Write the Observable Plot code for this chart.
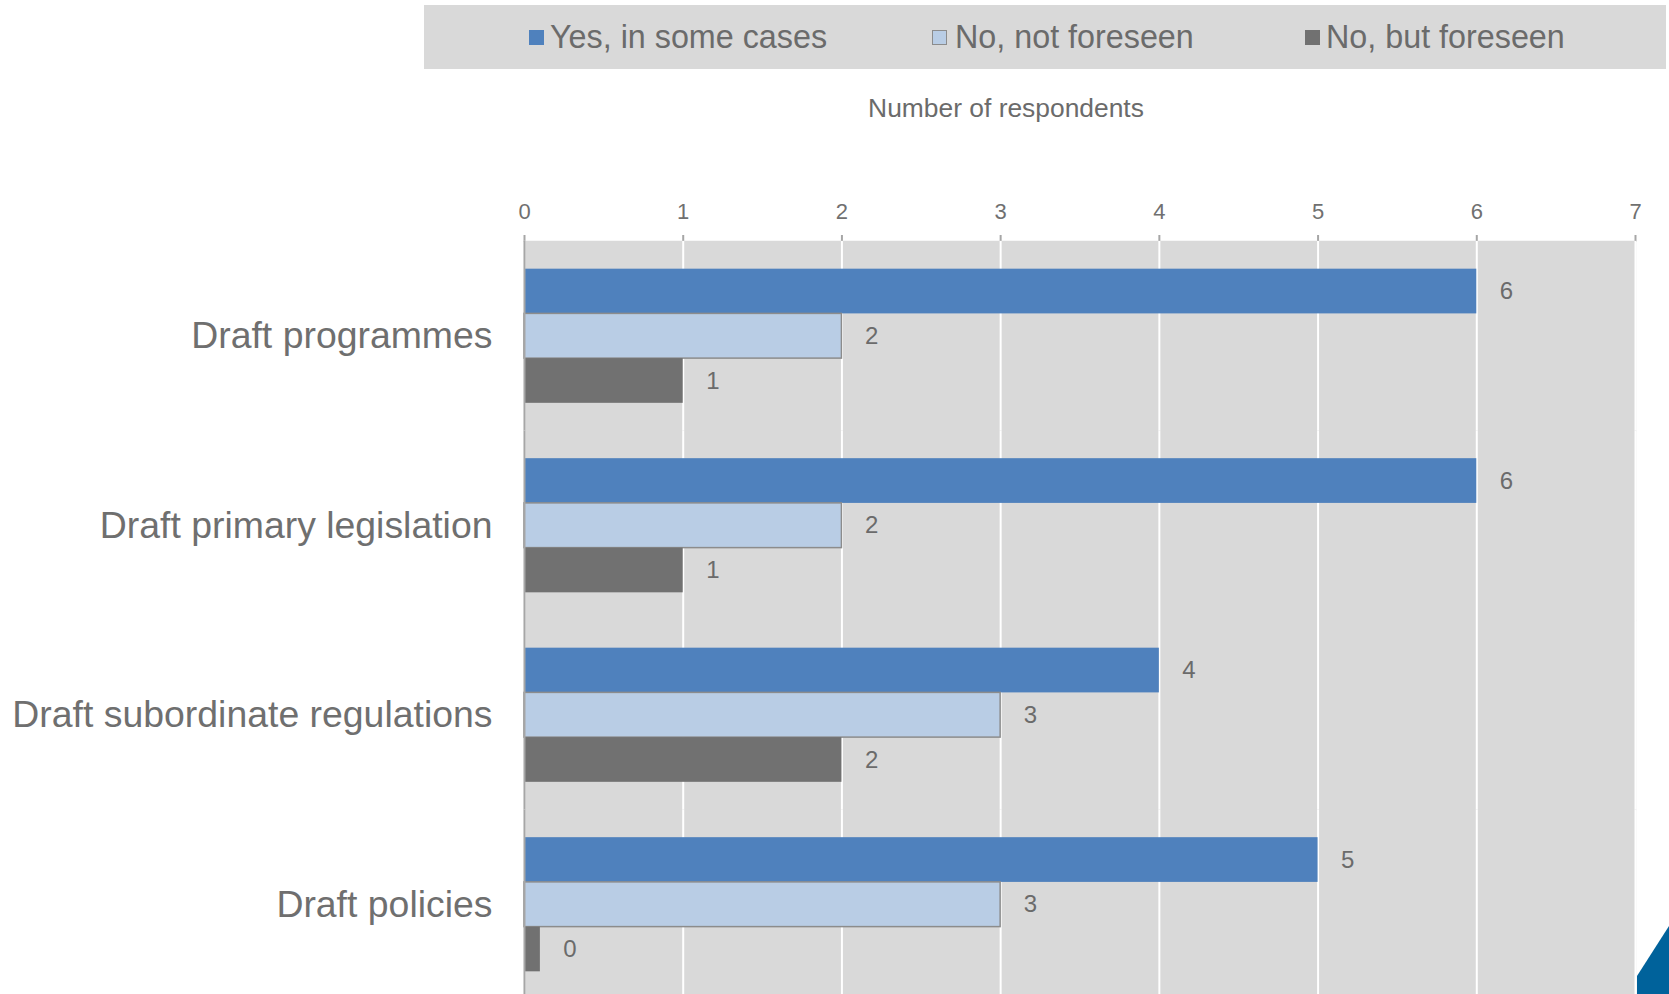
<!DOCTYPE html>
<html>
<head>
<meta charset="utf-8">
<script src="https://cdn.jsdelivr.net/npm/d3@7"></script>
<script src="https://cdn.jsdelivr.net/npm/@observablehq/plot@0.6"></script>
<style>
  html, body { margin: 0; padding: 0; background: #ffffff; overflow: hidden; }
  body { width: 1669px; height: 994px; position: relative; font-family: "Liberation Sans", Arial, sans-serif; }
  #legend { position: absolute; left: 424px; top: 5px; width: 1242px; height: 64px; background: #d9d9d9; }
  .item { position: absolute; top: 0; height: 64px; line-height: 64px; font-size: 32.3px; color: #6b6b6b; white-space: nowrap; }
  .swatch { position: absolute; top: 25px; width: 15px; height: 15px; box-sizing: border-box; }
  #xlabel { position: absolute; top: 93px; left: 806px; width: 400px; text-align: center; font-size: 26.4px; color: #6b6b6b; line-height: 30px; }
  #chart { position: absolute; left: 0; top: 0; }
  #corner { position: absolute; left: 1637px; top: 926px; width: 32px; height: 68px; background: #00629b;
            clip-path: polygon(0 50px, 100% 0, 100% 100%, 0 100%); }
  #chart svg [aria-label^="fy-axis"] text { font-size: 37.4px; fill: #6f6f6f; }
  #chart svg [aria-label^="x-axis"] text { font-size: 22px; fill: #707070; }
  #chart svg [aria-label^="x-axis"] line, #chart svg [aria-label^="x-axis"] path { stroke: #a6a6a6; stroke-width: 2px; }
</style>
</head>
<body>
<div id="legend"></div>
<div id="xlabel"></div>
<div id="chart"></div>
<div id="corner"></div>
<script>
// ---- data ----
const categories = ["Draft programmes", "Draft primary legislation", "Draft subordinate regulations", "Draft policies"];
const series = ["Yes, in some cases", "No, not foreseen", "No, but foreseen"];
const yesInSomeCases = [6, 6, 4, 5];
const noNotForeseen = [2, 2, 3, 3];
const noButForeseen = [1, 1, 2, 0.1];
const xTicks = [0, 1, 2, 3, 4, 5, 6, 7];
const xTitle = "Number of respondents";
const seriesColors = ["#4f81bd", "#b9cde5", "#717171"];
const swatchStrokes = ["#4f81bd", "#8c8c8c", "#717171"];

const seriesValues = [yesInSomeCases, noNotForeseen, noButForeseen];
const rows = categories.flatMap((c, i) => series.map((s, j) => ({category: c, series: s, value: seriesValues[j][i]})));

// ---- legend & title (HTML) ----
const legendPos = [{sw: 105, tx: 126}, {sw: 508, tx: 531}, {sw: 881, tx: 902}];
const legend = document.getElementById("legend");
series.forEach((s, j) => {
  const sw = document.createElement("div");
  sw.className = "swatch";
  sw.style.left = legendPos[j].sw + "px";
  sw.style.background = seriesColors[j];
  sw.style.border = "1.5px solid " + swatchStrokes[j];
  legend.appendChild(sw);
  const t = document.createElement("div");
  t.className = "item";
  t.style.left = legendPos[j].tx + "px";
  t.textContent = s;
  legend.appendChild(t);
});
document.getElementById("xlabel").textContent = xTitle;

// ---- chart ----
const fmt = d3.format(".0f");
const chart = Plot.plot({
  width: 1669,
  height: 999,
  marginTop: 241,
  marginLeft: 524,
  marginRight: 34,
  marginBottom: 0,
  style: {fontFamily: "'Liberation Sans', Arial, sans-serif", fontSize: "22px", color: "#6f6f6f", background: "transparent", overflow: "visible"},
  facet: {data: rows, y: "category"},
  fy: {domain: categories, padding: 0, round: false, label: null, tickSize: 0, tickPadding: 32, axis: "left"},
  y: {domain: series, axis: null, round: false, paddingInner: 0, paddingOuter: 0.619},
  x: {domain: [0, 7], axis: "top", ticks: xTicks, tickFormat: d3.format("d"), tickSize: 7, tickPadding: 16, label: null, line: true},
  color: {domain: series, range: seriesColors},
  marks: [
    Plot.frame({fill: "#d9d9d9", stroke: "#d9d9d9", strokeWidth: 1.5}),
    Plot.ruleX(xTicks, {stroke: "#ffffff", strokeWidth: 2}),
    Plot.barX(rows, {
      x: "value", y: "series", fill: "series",
      stroke: d => d.series === series[1] ? "#8c8c8c" : "none",
      strokeWidth: 1.5
    }),
    Plot.text(rows, {
      x: "value", y: "series", text: d => fmt(d.value),
      textAnchor: "start", dx: 23, fontSize: 24, fill: "#6b6b6b"
    }),
    Plot.ruleX([0], {stroke: "#a6a6a6", strokeWidth: 2})
  ]
});
document.getElementById("chart").appendChild(chart);
</script>
</body>
</html>
